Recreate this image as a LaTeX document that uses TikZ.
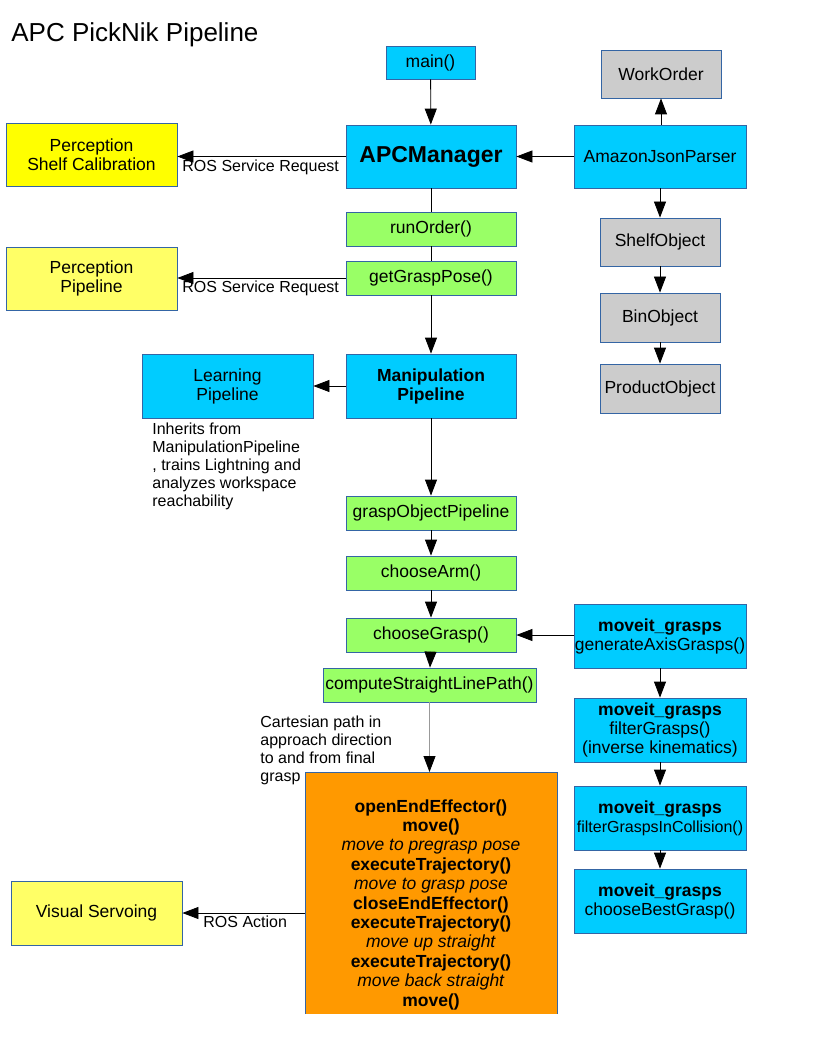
\documentclass[tikz,border=0pt]{standalone}
\usepackage{fontspec}
\setmainfont{Liberation Sans}
\usepackage{xcolor}
\usepackage{tikz}
\usetikzlibrary{arrows.meta}

\definecolor{boxedge}{HTML}{3465A4}
\definecolor{boxcyan}{HTML}{00CCFF}
\definecolor{boxgreen}{HTML}{99FF66}
\definecolor{boxgray}{HTML}{CCCCCC}
\definecolor{boxyellow}{HTML}{FFFF00}
\definecolor{boxpale}{HTML}{FFFF66}
\definecolor{boxorange}{HTML}{FF9900}

\tikzset{
    box/.style={draw=boxedge, line width=0.8pt, inner sep=0pt, align=center,
        font=\fontsize{17.5}{19}\selectfont},
    bigbox/.style={box, minimum width=171pt, minimum height=64pt},
    callbox/.style={box, fill=boxgreen, minimum width=170pt, minimum height=34pt},
    objbox/.style={box, fill=boxgray, minimum width=120pt, minimum height=48pt},
    note/.style={inner sep=0pt, font=\fontsize{16}{18}\selectfont},
}

\begin{document}
\begin{tikzpicture}[x=1pt, y=-1pt, line width=0.8pt, >={Triangle[length=16pt,width=12pt]}]

    \useasboundingbox (0,0) rectangle (816,1056);

    % Title
    \node[note, anchor=base west, font=\fontsize{26}{30}\selectfont] (title) at (11,42) {APC PickNik Pipeline};

    % Middle column
    \node[box, fill=boxcyan, minimum width=89pt, minimum height=33pt] (main) at (430.5,62.5) {main()};
    \node[bigbox, fill=boxcyan, minimum width=170pt, minimum height=63pt,
        font=\fontsize{23}{26}\selectfont\bfseries] (apcmanager) at (431,156.5) {APCManager};
    \node[callbox] (runorder) at (431,229) {runOrder()};
    \node[callbox] (getgrasppose) at (431,278) {getGraspPose()};
    \node[bigbox, fill=boxcyan, minimum width=170pt, font=\fontsize{17.5}{19}\selectfont\bfseries]
        (manipulation) at (431,386) {Manipulation\\Pipeline};
    \node[callbox] (graspobject) at (431,513) {graspObjectPipeline};
    \node[callbox] (choosearm) at (431,573) {chooseArm()};
    \node[callbox] (choosegrasp) at (431,635) {chooseGrasp()};
    \node[callbox, minimum width=213pt] (straightpath) at (429.5,685) {computeStraightLinePath()};

    % Execution box, cut off at the bottom of the page
    \begin{scope}
        \clip (0,0) rectangle (816,1013.5);
        \node[box, fill=boxorange, minimum width=252pt, minimum height=260pt, anchor=north]
            (execbox) at (431,772) {};
    \end{scope}
    \node[note, anchor=north, align=center, font=\fontsize{17.5}{19.4}\selectfont] (execsteps) at (431,799) {%
        \textbf{openEndEffector()}\\
        \textbf{move()}\\
        \textit{move to pregrasp pose}\\
        \textbf{executeTrajectory()}\\
        \textit{move to grasp pose}\\
        \textbf{closeEndEffector()}\\
        \textbf{executeTrajectory()}\\
        \textit{move up straight}\\
        \textbf{executeTrajectory()}\\
        \textit{move back straight}\\
        \textbf{move()}};

    % Left column
    \node[bigbox, fill=boxyellow, minimum height=63pt] (shelfcalib) at (91.5,154.5) {Perception\\Shelf Calibration};
    \node[bigbox, fill=boxpale, minimum height=63pt] (perception) at (91.5,278.5) {Perception\\Pipeline};
    \node[bigbox, fill=boxcyan] (learning) at (227.5,386) {Learning\\Pipeline};
    \node[bigbox, fill=boxpale] (visualservo) at (96.5,913) {Visual Servoing};

    % Notes
    \node[note, anchor=north west, align=left] (inherits) at (152,422.5)
        {Inherits from\\ManipulationPipeline\\, trains Lightning and\\analyzes workspace\\reachability};
    \node[note, anchor=north west, align=left] (cartnote) at (260,715)
        {Cartesian path in\\approach direction\\to and from final\\grasp};

    % Right column
    \node[objbox] (workorder) at (661,74) {WorkOrder};
    \node[bigbox, fill=boxcyan, minimum width=172pt, minimum height=63pt] (jsonparser) at (660,156.5) {AmazonJsonParser};
    \node[objbox] (shelfobject) at (660,242) {ShelfObject};
    \node[objbox, minimum height=49pt] (binobject) at (660,317.5) {BinObject};
    \node[objbox, minimum height=49pt] (productobject) at (660,388.5) {ProductObject};

    \node[bigbox, fill=boxcyan, minimum width=172pt] (generategrasps) at (660,636)
        {\textbf{moveit\_grasps}\\generateAxisGrasps()};
    \node[bigbox, fill=boxcyan, minimum width=172pt] (filtergrasps) at (660,730)
        {\textbf{moveit\_grasps}\\filterGrasps()\\(inverse kinematics)};
    \node[bigbox, fill=boxcyan, minimum width=172pt] (filtercollision) at (660,818)
        {\textbf{moveit\_grasps}\\{\fontsize{16}{19}\selectfont filterGraspsInCollision()}};
    \node[bigbox, fill=boxcyan, minimum width=172pt] (bestgrasp) at (660,901)
        {\textbf{moveit\_grasps}\\chooseBestGrasp()};

    % Arrows in the middle column
    \draw[->] (main) -- (apcmanager);
    \draw (apcmanager) -- (runorder);
    \draw (runorder) -- (getgrasppose);
    \draw[->] (getgrasppose) -- (manipulation);
    \draw[->] (manipulation) -- (graspobject);
    \draw[->] (graspobject) -- (choosearm);
    \draw[->] (choosearm) -- (choosegrasp);
    \draw[->] (choosegrasp) -- (straightpath);
    \draw[gray!80, -{Triangle[length=16pt,width=12pt,color=black]}]
        (straightpath.south) -- (straightpath.south |- execbox.north);

    % Requests going to the left
    \draw[->] (apcmanager.west) -- (apcmanager.west -| shelfcalib.east);
    \node[note, anchor=base west] (shelfrequest) at (182,172) {ROS Service Request};
    \draw[->] (getgrasppose.west) -- (getgrasppose.west -| perception.east);
    \node[note, anchor=base west] (perceptionrequest) at (182,293) {ROS Service Request};
    \draw[->] (manipulation) -- (learning);
    \draw[->] (execbox.west |- visualservo.east) -- (visualservo.east);
    \node[note, anchor=base west] (rosaction) at (203,927) {ROS Action};

    % Arrows in the right column
    \draw[->] (jsonparser) -- (apcmanager);
    \draw[->] (jsonparser.north -| workorder.south) -- (workorder.south);
    \draw[->] (jsonparser) -- (shelfobject);
    \draw[->] (shelfobject) -- (binobject);
    \draw[->] (binobject) -- (productobject);
    \draw[->] (generategrasps.west |- choosegrasp.east) -- (choosegrasp.east);
    \draw[->] (generategrasps) -- (filtergrasps);
    \draw[->] (filtergrasps) -- (filtercollision);
    \draw[->] (filtercollision) -- (bestgrasp);

\end{tikzpicture}
\end{document}
